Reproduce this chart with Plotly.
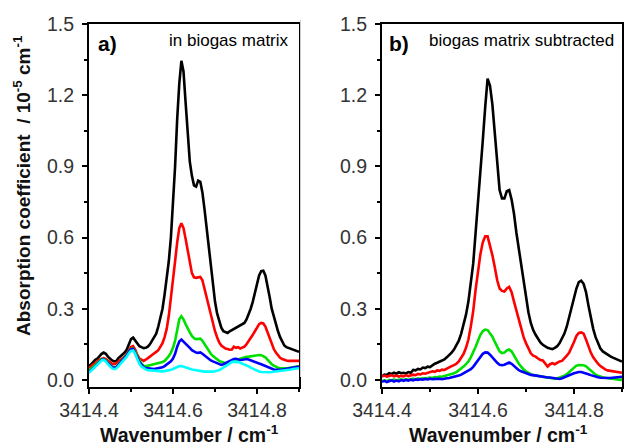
import plotly.graph_objects as go

# Wavenumber sampling grid (cm^-1), step 0.005
WAVENUMBER = [round(3414.400 + 0.005 * i, 3) for i in range(101)]

# Panel a) in biogas matrix  (absorption coefficient / 1e-5 cm^-1)
A_BLACK = [0.060, 0.065, 0.075, 0.085, 0.090, 0.100, 0.110, 0.115, 0.110, 0.098,
           0.088, 0.082, 0.078, 0.080, 0.092, 0.100, 0.105, 0.115, 0.128, 0.150,
           0.172, 0.178, 0.165, 0.150, 0.142, 0.138, 0.134, 0.135, 0.140, 0.150,
           0.165, 0.180, 0.195, 0.225, 0.260, 0.300, 0.360, 0.420, 0.500, 0.600,
           0.740, 0.900, 1.100, 1.250, 1.345, 1.300, 1.170, 1.020, 0.920, 0.860,
           0.820, 0.815, 0.840, 0.835, 0.790, 0.720, 0.640, 0.570, 0.480, 0.400,
           0.330, 0.280, 0.245, 0.220, 0.205, 0.200, 0.198, 0.205, 0.210, 0.212,
           0.218, 0.222, 0.228, 0.232, 0.240, 0.255, 0.275, 0.300, 0.330, 0.370,
           0.410, 0.440, 0.458, 0.460, 0.440, 0.400, 0.350, 0.300, 0.265, 0.235,
           0.205, 0.180, 0.160, 0.145, 0.138, 0.135, 0.133, 0.130, 0.126, 0.122,
           0.118]
A_RED = [0.050, 0.058, 0.065, 0.072, 0.078, 0.085, 0.090, 0.092, 0.088, 0.080,
         0.072, 0.068, 0.066, 0.070, 0.078, 0.085, 0.090, 0.098, 0.110, 0.125,
         0.138, 0.142, 0.128, 0.105, 0.090, 0.085, 0.080, 0.085, 0.090, 0.098,
         0.105, 0.110, 0.118, 0.125, 0.138, 0.155, 0.180, 0.215, 0.270, 0.340,
         0.420, 0.500, 0.580, 0.640, 0.660, 0.640, 0.595, 0.545, 0.500, 0.450,
         0.432, 0.430, 0.432, 0.434, 0.420, 0.385, 0.345, 0.305, 0.270, 0.235,
         0.205, 0.180, 0.158, 0.145, 0.138, 0.132, 0.130, 0.127, 0.128, 0.140,
         0.135, 0.138, 0.132, 0.135, 0.140, 0.150, 0.162, 0.175, 0.190, 0.205,
         0.222, 0.235, 0.240, 0.238, 0.225, 0.200, 0.172, 0.148, 0.130, 0.115,
         0.102, 0.093, 0.088, 0.084, 0.082, 0.080, 0.080, 0.082, 0.083, 0.082,
         0.080]
A_GREEN = [0.040, 0.048, 0.058, 0.066, 0.073, 0.080, 0.087, 0.088, 0.082, 0.072,
           0.062, 0.056, 0.052, 0.055, 0.065, 0.075, 0.082, 0.092, 0.105, 0.120,
           0.130, 0.132, 0.118, 0.098, 0.080, 0.068, 0.060, 0.058, 0.060, 0.062,
           0.064, 0.066, 0.068, 0.070, 0.072, 0.075, 0.080, 0.088, 0.100, 0.115,
           0.135, 0.165, 0.210, 0.255, 0.268, 0.255, 0.235, 0.215, 0.200, 0.185,
           0.176, 0.172, 0.172, 0.174, 0.165, 0.150, 0.135, 0.122, 0.110, 0.100,
           0.092, 0.085, 0.080, 0.076, 0.073, 0.070, 0.072, 0.075, 0.078, 0.082,
           0.085, 0.088, 0.090, 0.093, 0.095, 0.097, 0.098, 0.100, 0.102, 0.103,
           0.104, 0.105, 0.104, 0.100, 0.095, 0.085, 0.075, 0.066, 0.060, 0.055,
           0.051, 0.049, 0.048, 0.048, 0.049, 0.050, 0.052, 0.054, 0.055, 0.056,
           0.056]
A_BLUE = [0.032, 0.040, 0.050, 0.060, 0.068, 0.076, 0.084, 0.086, 0.080, 0.070,
          0.060, 0.054, 0.050, 0.053, 0.063, 0.073, 0.080, 0.090, 0.103, 0.118,
          0.128, 0.130, 0.115, 0.095, 0.075, 0.062, 0.054, 0.050, 0.048, 0.047,
          0.047, 0.046, 0.047, 0.048, 0.050, 0.053, 0.058, 0.064, 0.070, 0.078,
          0.090, 0.110, 0.140, 0.162, 0.170, 0.162, 0.150, 0.142, 0.135, 0.125,
          0.118, 0.115, 0.114, 0.116, 0.110, 0.102, 0.095, 0.088, 0.082, 0.078,
          0.074, 0.068, 0.064, 0.063, 0.066, 0.070, 0.075, 0.080, 0.085, 0.088,
          0.089, 0.086, 0.084, 0.085, 0.087, 0.088, 0.086, 0.082, 0.080, 0.077,
          0.073, 0.069, 0.066, 0.062, 0.058, 0.053, 0.049, 0.046, 0.044, 0.043,
          0.042, 0.042, 0.043, 0.045, 0.047, 0.049, 0.051, 0.053, 0.054, 0.055,
          0.056]
A_CYAN = [0.030, 0.038, 0.048, 0.058, 0.066, 0.074, 0.082, 0.084, 0.078, 0.066,
          0.055, 0.048, 0.045, 0.048, 0.058, 0.068, 0.076, 0.086, 0.098, 0.112,
          0.122, 0.124, 0.110, 0.088, 0.068, 0.056, 0.048, 0.044, 0.041, 0.040,
          0.039, 0.038, 0.037, 0.037, 0.036, 0.036, 0.037, 0.038, 0.040, 0.043,
          0.046, 0.050, 0.055, 0.058, 0.058, 0.056, 0.053, 0.050, 0.047, 0.044,
          0.042, 0.040, 0.038, 0.037, 0.036, 0.035, 0.035, 0.034, 0.034, 0.035,
          0.036, 0.038, 0.041, 0.046, 0.052, 0.058, 0.065, 0.071, 0.075, 0.077,
          0.077, 0.075, 0.072, 0.069, 0.066, 0.062, 0.057, 0.052, 0.047, 0.042,
          0.038, 0.035, 0.033, 0.032, 0.031, 0.031, 0.032, 0.033, 0.034, 0.035,
          0.036, 0.037, 0.038, 0.040, 0.041, 0.043, 0.044, 0.046, 0.047, 0.048,
          0.049]

# Panel b) biogas matrix subtracted
B_BLACK = [0.015, 0.022, 0.020, 0.028, 0.025, 0.030, 0.026, 0.032, 0.028, 0.030,
           0.027, 0.033, 0.030, 0.042, 0.040, 0.046, 0.044, 0.052, 0.050, 0.056,
           0.054, 0.062, 0.068, 0.072, 0.076, 0.082, 0.086, 0.095, 0.104, 0.115,
           0.128, 0.145, 0.165, 0.195, 0.230, 0.275, 0.330, 0.400, 0.490, 0.620,
           0.765, 0.900, 1.010, 1.150, 1.270, 1.240, 1.160, 1.040, 0.910, 0.800,
           0.765, 0.765, 0.795, 0.800, 0.760, 0.700, 0.620, 0.550, 0.480, 0.415,
           0.345, 0.285, 0.240, 0.210, 0.190, 0.172, 0.158, 0.148, 0.140, 0.135,
           0.132, 0.130, 0.135, 0.142, 0.155, 0.172, 0.195, 0.225, 0.265, 0.305,
           0.345, 0.385, 0.412, 0.418, 0.405, 0.370, 0.315, 0.260, 0.215, 0.180,
           0.152, 0.132, 0.120, 0.112, 0.106, 0.100, 0.095, 0.090, 0.086, 0.082,
           0.077]
B_RED = [0.015, 0.018, 0.014, 0.016, 0.020, 0.015, 0.018, 0.014, 0.017, 0.015,
         0.020, 0.016, 0.018, 0.022, 0.020, 0.025, 0.023, 0.028, 0.026, 0.030,
         0.032, 0.036, 0.034, 0.040, 0.038, 0.043, 0.042, 0.048, 0.052, 0.058,
         0.062, 0.068, 0.078, 0.092, 0.110, 0.135, 0.170, 0.225, 0.290, 0.380,
         0.460, 0.530, 0.580, 0.605, 0.605, 0.570, 0.525, 0.475, 0.420, 0.385,
         0.375, 0.372, 0.385, 0.392, 0.370, 0.330, 0.290, 0.250, 0.215, 0.180,
         0.155, 0.130, 0.112, 0.102, 0.098, 0.090, 0.084, 0.082, 0.068, 0.056,
         0.066, 0.070, 0.066, 0.074, 0.078, 0.080, 0.090, 0.102, 0.115, 0.135,
         0.160, 0.185, 0.198, 0.200, 0.195, 0.170, 0.140, 0.115, 0.095, 0.080,
         0.068, 0.058, 0.050, 0.044, 0.040, 0.038, 0.036, 0.034, 0.033, 0.032,
         0.030]
B_GREEN = [-0.005, -0.002, -0.006, 0.000, -0.003, 0.002, -0.002, 0.000, 0.002, -0.001,
           0.003, 0.000, 0.002, 0.005, 0.002, 0.006, 0.004, 0.008, 0.006, 0.008,
           0.010, 0.008, 0.012, 0.011, 0.014, 0.013, 0.016, 0.018, 0.020, 0.024,
           0.028, 0.033, 0.040, 0.048, 0.056, 0.066, 0.078, 0.095, 0.115, 0.140,
           0.165, 0.190, 0.205, 0.212, 0.210, 0.198, 0.182, 0.160, 0.138, 0.120,
           0.113, 0.115, 0.124, 0.128, 0.120, 0.105, 0.085, 0.068, 0.055, 0.044,
           0.036, 0.029, 0.024, 0.020, 0.018, 0.016, 0.014, 0.013, 0.011, 0.010,
           0.008, 0.006, 0.005, 0.006, 0.009, 0.013, 0.018, 0.024, 0.032, 0.042,
           0.052, 0.060, 0.063, 0.064, 0.062, 0.057, 0.048, 0.038, 0.029, 0.022,
           0.017, 0.013, 0.011, 0.009, 0.007, 0.005, 0.004, 0.003, 0.002, 0.001,
           0.000]
B_BLUE = [-0.008, -0.004, -0.009, -0.005, -0.002, -0.007, -0.003, -0.006, -0.001, -0.004,
          0.000, -0.003, 0.001, -0.002, 0.002, 0.000, 0.003, 0.001, 0.004, 0.002,
          0.005, 0.003, 0.004, 0.002, 0.005, 0.003, 0.006, 0.007, 0.008, 0.010,
          0.012, 0.014, 0.018, 0.022, 0.027, 0.032, 0.038, 0.045, 0.055, 0.068,
          0.082, 0.098, 0.110, 0.116, 0.115, 0.106, 0.094, 0.082, 0.072, 0.064,
          0.062, 0.064, 0.070, 0.073, 0.068, 0.058, 0.048, 0.041, 0.036, 0.032,
          0.028, 0.024, 0.021, 0.020, 0.018, 0.016, 0.014, 0.013, 0.012, 0.010,
          0.010, 0.008, 0.006, 0.005, 0.004, 0.007, 0.012, 0.016, 0.020, 0.024,
          0.028, 0.031, 0.033, 0.033, 0.031, 0.028, 0.024, 0.020, 0.016, 0.013,
          0.011, 0.009, 0.008, 0.007, 0.007, 0.008, 0.009, 0.010, 0.011, 0.012,
          0.013]

X_TICKS = [3414.4, 3414.6, 3414.8]
X_TICK_TEXT = ["3414.4", "3414.6", "3414.8"]
Y_TICKS = [0.0, 0.3, 0.6, 0.9, 1.2, 1.5]

COLORS = {"black": "#000000", "red": "#ff0000", "green": "#00e000",
          "blue": "#0000ff", "cyan": "#00ffff"}

W, H = 624, 448
FONT = "Liberation Sans, Arial, sans-serif"

fig = go.Figure()

panel_a = [("black", A_BLACK), ("red", A_RED), ("green", A_GREEN),
           ("blue", A_BLUE), ("cyan", A_CYAN)]
panel_b = [("black", B_BLACK), ("red", B_RED), ("green", B_GREEN),
           ("blue", B_BLUE)]

for name, ys in panel_a:
    fig.add_trace(go.Scatter(x=WAVENUMBER, y=ys, mode="lines", xaxis="x", yaxis="y",
                             line=dict(color=COLORS[name], width=2.6),
                             showlegend=False))
for name, ys in panel_b:
    fig.add_trace(go.Scatter(x=WAVENUMBER, y=ys, mode="lines", xaxis="x2", yaxis="y2",
                             line=dict(color=COLORS[name], width=2.6),
                             showlegend=False))


def px_x(p):
    return p / W


def px_y(p):
    return 1 - p / H


top, bottom = 24, 387
axis_common = dict(showline=True, linecolor="black", linewidth=2, mirror=True,
                   ticks="outside", ticklen=5, tickwidth=2, tickcolor="black",
                   showgrid=False, zeroline=False, automargin=False,
                   tickfont=dict(family=FONT, size=19.5, color="#333333"))

xcommon = dict(axis_common, range=[3414.4, 3414.9], tickvals=X_TICKS, ticktext=X_TICK_TEXT,
               minor=dict(tick0=3414.4, dtick=0.1, ticks="outside", ticklen=3,
                          tickwidth=2, tickcolor="black", showgrid=False))
ycommon = dict(axis_common, range=[-0.03, 1.5], tickvals=Y_TICKS, tickformat=".1f",
               minor=dict(tick0=0, dtick=0.15, ticks="outside", ticklen=3,
                          tickwidth=2, tickcolor="black", showgrid=False),
               ticklabelstandoff=4)

fig.update_layout(
    width=W, height=H,
    margin=dict(l=0, r=0, t=0, b=0, autoexpand=False),
    paper_bgcolor="white", plot_bgcolor="white",
    xaxis=dict(xcommon, domain=[px_x(89), px_x(299)], anchor="y"),
    yaxis=dict(ycommon, domain=[px_y(bottom), px_y(top)], anchor="x"),
    xaxis2=dict(xcommon, domain=[px_x(382), px_x(622)], anchor="y2"),
    yaxis2=dict(ycommon, domain=[px_y(bottom), px_y(top)], anchor="x2"),
)

ann = []
ann.append(dict(text="<b>a)</b>", x=px_x(96), y=px_y(43), xanchor="left", yanchor="middle",
                font=dict(family=FONT, size=21, color="black")))
ann.append(dict(text="in biogas matrix", x=px_x(291), y=px_y(40), xanchor="right",
                yanchor="middle", font=dict(family=FONT, size=17, color="black")))
ann.append(dict(text="<b>b)</b>", x=px_x(387), y=px_y(43), xanchor="left", yanchor="middle",
                font=dict(family=FONT, size=21, color="black")))
ann.append(dict(text="biogas matrix subtracted", x=px_x(616), y=px_y(40), xanchor="right",
                yanchor="middle", font=dict(family=FONT, size=17, color="black")))
ann.append(dict(text="<b>Wavenumber / cm<sup>-1</sup></b>", x=px_x(190), y=px_y(434),
                xanchor="center", yanchor="middle",
                font=dict(family=FONT, size=19.5, color="#111111")))
ann.append(dict(text="<b>Wavenumber / cm<sup>-1</sup></b>", x=px_x(498), y=px_y(434),
                xanchor="center", yanchor="middle",
                font=dict(family=FONT, size=19.5, color="#111111")))
ann.append(dict(text="<b>Absorption coefficient  / 10<sup>-5</sup> cm<sup>-1</sup></b>",
                x=px_x(22), y=px_y(186), xanchor="center", yanchor="middle", textangle=-90,
                font=dict(family=FONT, size=19, color="#111111")))
for a in ann:
    a.update(xref="paper", yref="paper", showarrow=False)
fig.update_layout(annotations=ann)

fig.add_shape(type="line", xref="paper", yref="paper",
              x0=px_x(300.5), x1=px_x(300.5), y0=px_y(20), y1=px_y(377),
              line=dict(color="#cccccc", width=1))

fig.write_html("out.html")
